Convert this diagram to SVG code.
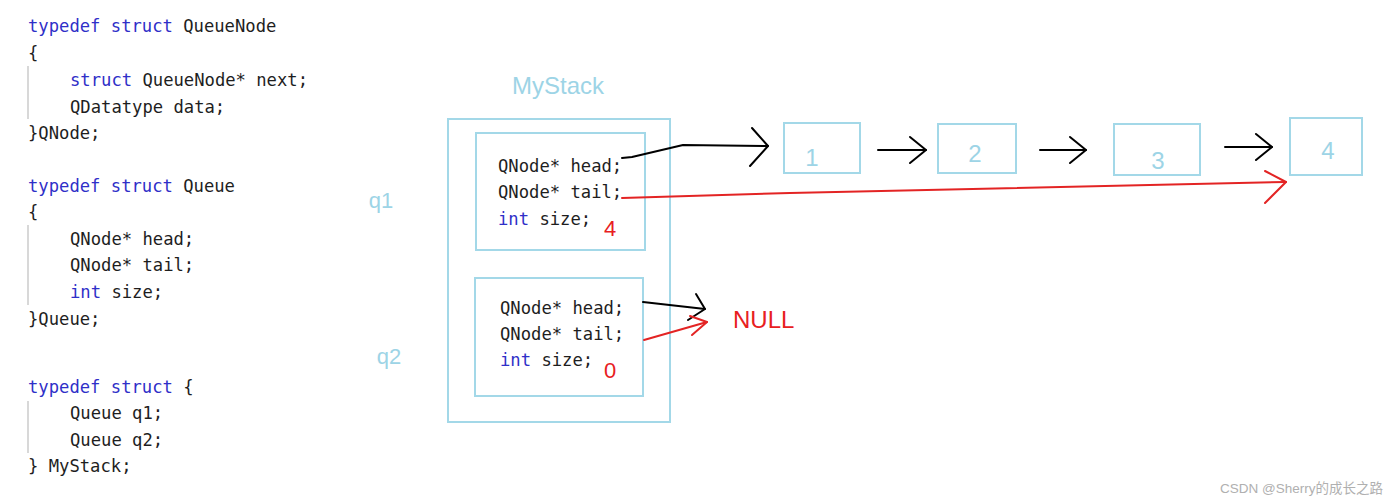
<svg xmlns="http://www.w3.org/2000/svg" width="1400" height="503" viewBox="0 0 1400 503">
<style>
.code{font-family:"DejaVu Sans Mono","Liberation Mono",monospace;font-size:17.2px;fill:#1e1e1e}
.kw{fill:#2f2fc8}
.guide{stroke:#d8d8d8;stroke-width:2}
.box{fill:none;stroke:#a3d8e8;stroke-width:2}
.lbl{font-family:"Liberation Sans","Noto Sans",sans-serif;fill:#9dd4e6}
.red{font-family:"Liberation Sans","Noto Sans",sans-serif;fill:#e8201e}
.blk{fill:none;stroke:#000;stroke-width:2;stroke-linecap:round;stroke-linejoin:round}
.rd{fill:none;stroke:#e32424;stroke-width:2;stroke-linecap:round;stroke-linejoin:round}
</style>
<rect width="1400" height="503" fill="#ffffff"/>
<g id="code">
<line class="guide" x1="28" y1="66" x2="28" y2="119"/>
<line class="guide" x1="28" y1="225" x2="28" y2="305"/>
<line class="guide" x1="28" y1="401" x2="28" y2="453"/>
<text class="code" x="28" y="32"><tspan class="kw">typedef struct</tspan> QueueNode</text>
<text class="code" x="28" y="59">{</text>
<text class="code" x="70" y="86"><tspan class="kw">struct</tspan> QueueNode* next;</text>
<text class="code" x="70" y="113">QDatatype data;</text>
<text class="code" x="28" y="139">}QNode;</text>
<text class="code" x="28" y="192"><tspan class="kw">typedef struct</tspan> Queue</text>
<text class="code" x="28" y="218">{</text>
<text class="code" x="70" y="245">QNode* head;</text>
<text class="code" x="70" y="271">QNode* tail;</text>
<text class="code" x="70" y="298"><tspan class="kw">int</tspan> size;</text>
<text class="code" x="28" y="325">}Queue;</text>
<text class="code" x="28" y="393"><tspan class="kw">typedef struct</tspan> {</text>
<text class="code" x="70" y="419">Queue q1;</text>
<text class="code" x="70" y="446">Queue q2;</text>
<text class="code" x="28" y="472">} MyStack;</text>
</g>
<g id="mystack">
<text class="lbl" x="558" y="94" font-size="24" text-anchor="middle">MyStack</text>
<rect class="box" x="448" y="119" width="222" height="303"/>
</g>
<g id="q1">
<text class="lbl" x="381" y="208" font-size="22" text-anchor="middle">q1</text>
<rect class="box" x="476" y="133" width="169" height="117"/>
<text class="code" x="498" y="172">QNode* head;</text>
<text class="code" x="498" y="198">QNode* tail;</text>
<text class="code" x="498" y="225"><tspan class="kw">int</tspan> size;</text>
<text class="red" x="610" y="236" font-size="22" text-anchor="middle">4</text>
</g>
<g id="q2">
<text class="lbl" x="389" y="364" font-size="22" text-anchor="middle">q2</text>
<rect class="box" x="475" y="278" width="168" height="118"/>
<text class="code" x="500" y="314">QNode* head;</text>
<text class="code" x="500" y="340">QNode* tail;</text>
<text class="code" x="500" y="366"><tspan class="kw">int</tspan> size;</text>
<text class="red" x="610" y="378" font-size="22" text-anchor="middle">0</text>
</g>
<g id="null">
<text class="red" x="733" y="328" font-size="24">NULL</text>
</g>
<g id="n1">
<rect class="box" x="784" y="123" width="76" height="50"/>
<text class="lbl" x="812" y="166" font-size="24" text-anchor="middle">1</text>
</g>
<g id="n2">
<rect class="box" x="938" y="124" width="78" height="49"/>
<text class="lbl" x="975" y="162" font-size="24" text-anchor="middle">2</text>
</g>
<g id="n3">
<rect class="box" x="1114" y="124" width="86" height="51"/>
<text class="lbl" x="1158" y="169" font-size="24" text-anchor="middle">3</text>
</g>
<g id="n4">
<rect class="box" x="1290" y="118" width="72" height="57"/>
<text class="lbl" x="1328" y="159" font-size="24" text-anchor="middle">4</text>
</g>
<g id="connectors">
<polyline class="blk" points="622,158 632,157 683,145 768,146"/>
<polyline class="blk" points="752,128 768,146 750,166"/>
<line class="blk" x1="878" y1="150" x2="926" y2="150"/>
<polyline class="blk" points="910,137 926,150 910,163"/>
<line class="blk" x1="1040" y1="150" x2="1086" y2="150"/>
<polyline class="blk" points="1070,137 1086,150 1070,163"/>
<line class="blk" x1="1225" y1="147" x2="1272" y2="147"/>
<polyline class="blk" points="1256,134 1272,147 1256,160"/>
<polyline class="rd" points="622,198 790,193 1286,182"/>
<polyline class="rd" points="1265,171 1286,182 1265,203"/>
<line class="blk" x1="643" y1="302" x2="705" y2="309"/>
<polyline class="blk" points="696,294 705,309 688,320"/>
<line class="rd" x1="644" y1="340" x2="707" y2="322"/>
<polyline class="rd" points="690,316 707,322 692,335"/>
</g>
<text x="1220" y="493" font-family="Liberation Sans,'Noto Sans CJK SC',sans-serif" font-size="13.5" fill="#b0b0b0">CSDN @Sherry的成长之路</text>
</svg>
